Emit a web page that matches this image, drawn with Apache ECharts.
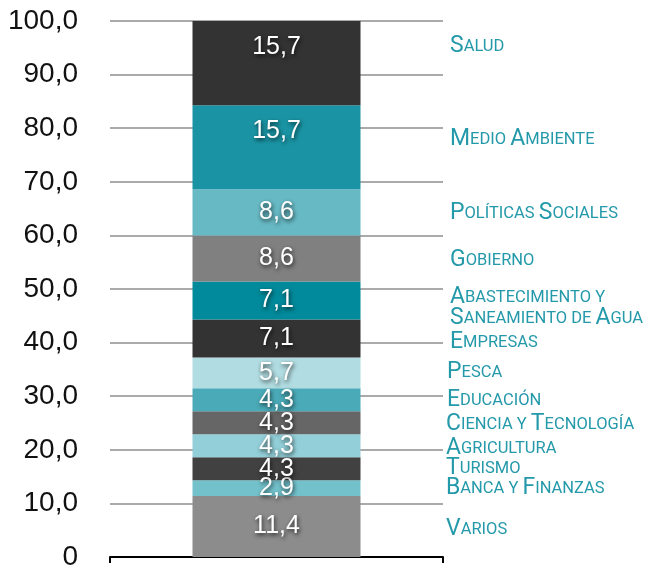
<!DOCTYPE html>
<html>
<head>
<meta charset="utf-8">
<script src="https://cdn.jsdelivr.net/npm/echarts@6/dist/echarts.min.js"></script>
<style>
  html, body { margin: 0; padding: 0; background: #fff; }
  #chart { width: 649px; height: 571px; }
</style>
</head>
<body>
<div id="chart"></div>
<script>
// Sectors stacked from the bottom of the column to the top
const sectors = [
  'Varios', 'Banca y Finanzas', 'Turismo', 'Agricultura', 'Ciencia y Tecnología',
  'Educación', 'Pesca', 'Empresas', 'Abastecimiento y\nSaneamiento de Agua',
  'Gobierno', 'Políticas Sociales', 'Medio Ambiente', 'Salud'
];
// Share of each sector (%)
const shares = [11.4, 2.9, 4.3, 4.3, 4.3, 4.3, 5.7, 7.1, 7.1, 8.6, 8.6, 15.7, 15.7];
const yTicks = { min: 0, max: 100, step: 10 };

// Styling
const fills = [
  '#8c8c8c', '#72c1cb', '#414141', '#93cfd8', '#666666',
  '#4aaab8', '#b1dce1', '#333333', '#008a9b',
  '#808080', '#67b9c4', '#1a94a4', '#333333'
];
const nameColor = '#2499aa';
// position (px) of each sector name on the right
const nameX = [446, 446, 446, 446, 446, 447, 447, 450, 450, 450, 450, 450, 450];
const nameY = [529, 488, 468, 448, 424, 400, 372, 342, 307, 260, 213, 139, 46];
// value labels of the tall blocks sit higher than the block centre
const labelShift = [0, 0, 0, 0, 0, 0, 0, 0, 0, 0, 0, -16, -16];

const fmt = v => v.toFixed(1).replace('.', ',');

// turn a name into small caps using rich text runs
function smallCaps(str) {
  let out = '';
  let run = '', runKind = null;
  const flush = () => { if (run) out += '{' + runKind + '|' + run + '}'; run = ''; };
  for (const ch of str) {
    if (ch === '\n') { flush(); out += '\n'; runKind = null; continue; }
    const big = ch !== ch.toLowerCase();
    const kind = big ? 'b' : 's';
    if (kind !== runKind) { flush(); runKind = kind; }
    run += ch.toUpperCase();
  }
  flush();
  return out;
}

const chart = echarts.init(document.getElementById('chart'), null, { renderer: 'canvas' });

const series = shares.map((v, i) => ({
  name: sectors[i],
  type: 'bar',
  stack: 'total',
  barWidth: 168,
  data: [v],
  itemStyle: { color: fills[i] },
  label: {
    show: true,
    position: 'inside',
    offset: [0, labelShift[i]],
    formatter: p => fmt(p.value),
    color: '#fff',
    fontFamily: 'Liberation Sans, Arial, sans-serif',
    fontSize: 25,
    textShadowColor: 'rgba(0,0,0,0.75)',
    textShadowBlur: 4,
    textShadowOffsetX: 1,
    textShadowOffsetY: 2
  }
}));

const nameTexts = sectors.map((s, i) => ({
  type: 'text',
  left: nameX[i],
  top: nameY[i] - (s.includes('\n') ? 21 : 11),
  silent: true,
  style: {
    text: smallCaps(s),
    fill: nameColor,
    rich: {
      b: { fontFamily: 'Roboto, sans-serif', fontSize: 23, fill: nameColor, lineHeight: 21 },
      s: { fontFamily: 'Roboto, sans-serif', fontSize: 16.5, fill: nameColor, lineHeight: 21 }
    }
  }
}));

chart.setOption({
  animation: false,
  grid: { left: 110, right: 206, top: 21, bottom: 14 },
  xAxis: {
    type: 'category',
    data: [''],
    boundaryGap: true,
    axisLine: { lineStyle: { color: '#000', width: 2 } },
    axisTick: { show: true, length: 6, lineStyle: { color: '#000', width: 2 } },
    axisLabel: { show: false }
  },
  yAxis: {
    type: 'value',
    min: yTicks.min,
    max: yTicks.max,
    interval: yTicks.step,
    axisLine: { show: false },
    axisTick: { show: false },
    axisLabel: {
      formatter: v => (v === 0 ? '0' : fmt(v)),
      color: '#111',
      fontFamily: 'Liberation Sans, Arial, sans-serif',
      fontSize: 28,
      margin: 32
    },
    splitLine: { lineStyle: { color: '#aaaaaa', width: 2 } }
  },
  series: series,
  graphic: nameTexts
});
</script>
</body>
</html>
